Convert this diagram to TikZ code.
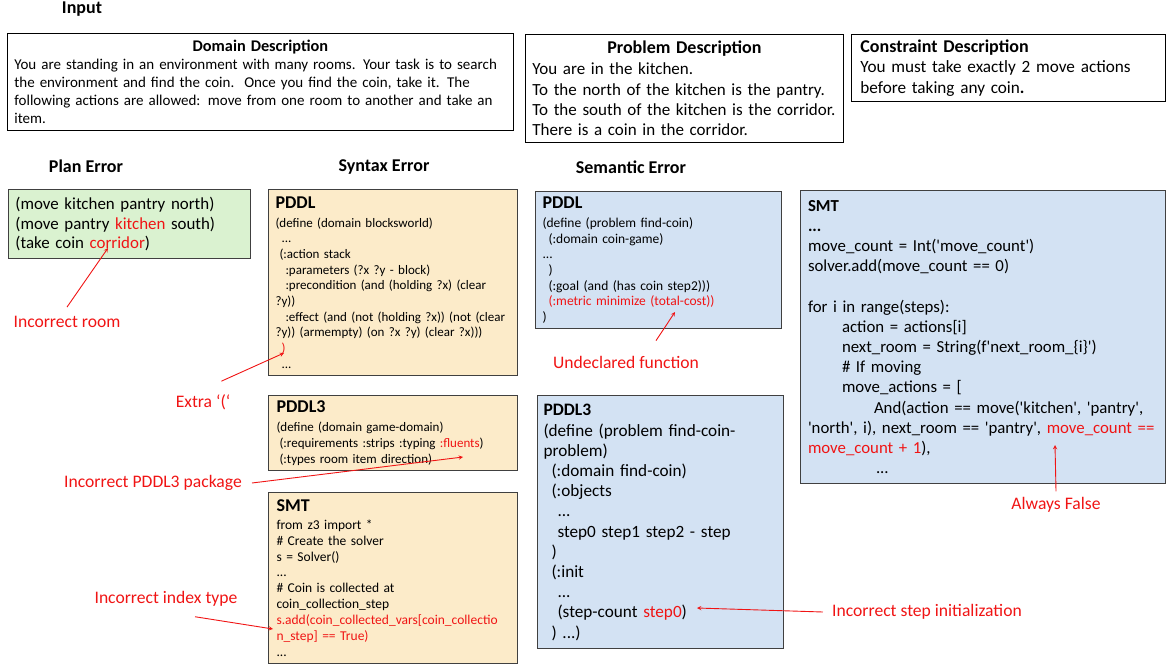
\documentclass[tikz,border=0pt]{standalone}
\usepackage{fontspec}
\setmainfont{Carlito}[Ligatures=TeXOff]
\usetikzlibrary{shapes, arrows, positioning}
\definecolor{errred}{RGB}{240,20,20}
\definecolor{plangreen}{HTML}{DAF2D0}
\definecolor{synbeige}{HTML}{FCEBC9}
\definecolor{semblue}{HTML}{D3E2F3}
\definecolor{edgegray}{HTML}{404040}
\tikzstyle{heading} = [font=\fontsize{18}{20}\selectfont\bfseries, inner sep=1pt]
\tikzstyle{inbox} = [rectangle, draw=black, line width=0.8pt, anchor=north west, align=left, inner ysep=0pt]
\tikzstyle{codebox} = [rectangle, draw=edgegray, line width=1pt, anchor=north west, align=left, inner ysep=0pt]
\tikzstyle{errlabel} = [text=errred, font=\fontsize{17.6}{20}\selectfont, inner sep=1pt]
\tikzstyle{errarrow} = [errred, line width=0.9pt, ->, >=stealth]
\newcommand{\err}[1]{\textcolor{errred}{#1}}

\begin{document}
\begin{tikzpicture}[x=1pt, y=-1pt]
    \useasboundingbox (0,0) rectangle (1166,666);

    % input descriptions
    \node (input) [heading] at (82,9) {Input};
    \node (domain) [inbox, inner xsep=7pt, text width=492pt, minimum height=97pt, font=\fontsize{15}{18}\selectfont] at (7,33) {\makebox[\linewidth]{\fontsize{16.3}{18}\selectfont\bfseries Domain Description}\\
        You are standing in an environment with many rooms. Your task is to search\\
        the environment and find the coin.\ \ Once you find the coin, take it. The\\
        following actions are allowed: move from one room to another and take an\\
        item.};
    \node (problem) [inbox, inner xsep=7pt, text width=304pt, minimum height=108pt, font=\fontsize{17}{20.3}\selectfont] at (525,34) {\makebox[\linewidth]{\fontsize{18}{20}\selectfont\bfseries Problem Description}\\[0.7pt]
        You are in the kitchen.\\
        To the north of the kitchen is the pantry.\\
        To the south of the kitchen is the corridor.\\
        There is a coin in the corridor.};
    \node (constraint) [inbox, inner xsep=9pt, text width=296pt, minimum height=67pt, font=\fontsize{17.2}{20.5}\selectfont] at (851,34) {{\fontsize{18}{20}\selectfont\bfseries Constraint Description}\\
        You must take exactly 2 move actions\\
        before taking any coin{\bfseries .}};

    % column headings
    \node (planhead) [heading] at (86,166) {Plan Error};
    \node (synhead) [heading] at (384,167) {Syntax Error};
    \node (semhead) [heading] at (631,167) {Semantic Error};

    % plan error
    \node (plan) [codebox, fill=plangreen, inner xsep=7pt, text width=228pt, minimum height=69pt, font=\fontsize{16.9}{19.8}\selectfont] at (8,189) {(move kitchen pantry north)\\
        (move pantry \err{kitchen} south)\\
        (take coin \err{corridor})};

    % syntax errors
    \node (synpddl) [codebox, fill=synbeige, inner xsep=7pt, text width=235pt, minimum height=186pt, font=\fontsize{13}{15.67}\selectfont] at (268,189) {{\fontsize{18}{18}\selectfont\bfseries PDDL}\\[3.3pt]
        (define (domain blocksworld)\\
        \hspace*{6pt}...\\
        \hspace*{4pt}(:action stack\\
        \hspace*{10pt}:parameters (?x ?y - block)\\
        \hspace*{10pt}:precondition (and (holding ?x) (clear\\
        ?y))\\
        \hspace*{10pt}:effect (and (not (holding ?x)) (not (clear\\
        ?y)) (armempty) (on ?x ?y) (clear ?x)))\\
        \hspace*{6pt}\err{)}\\
        \hspace*{6pt}...};
    \node (synpddl3) [codebox, fill=synbeige, inner xsep=8pt, text width=233pt, minimum height=75pt, font=\fontsize{13}{16}\selectfont] at (268,395) {{\fontsize{18}{18}\selectfont\bfseries PDDL3}\\[3pt]
        (define (domain game-domain)\\
        \hspace*{3pt}(:requirements :strips :typing \err{:fluents})\\
        \hspace*{3pt}(:types room item direction)};
    \node (synsmt) [codebox, fill=synbeige, inner xsep=8pt, text width=233pt, minimum height=171pt, font=\fontsize{13.5}{15.9}\selectfont] at (268,492) {{\fontsize{18}{18}\selectfont\bfseries SMT}\\[2pt]
        from z3 import *\\
        \# Create the solver\\
        s = Solver()\\
        ...\\
        \# Coin is collected at\\
        coin\_collection\_step\\
        \err{s.add(coin\_collected\_vars[coin\_collectio}\\
        \err{n\_step] == True)}\\
        ...};

    % semantic errors
    \node (sempddl) [codebox, fill=semblue, inner xsep=7pt, text width=232pt, minimum height=137pt, font=\fontsize{13.5}{15.7}\selectfont] at (535,191) {{\fontsize{18}{18}\selectfont\bfseries PDDL}\\[3.3pt]
        (define (problem find-coin)\\
        \hspace*{6pt}(:domain coin-game)\\
        ...\\
        \hspace*{6pt})\\
        \hspace*{6pt}(:goal (and (has coin step2)))\\
        \hspace*{6pt}\err{(:metric minimize (total-cost))}\\
        )};
    \node (sempddl3) [codebox, fill=semblue, inner xsep=6pt, text width=234pt, minimum height=253pt, font=\fontsize{17.2}{20.2}\selectfont] at (537,395) {{\fontsize{17.5}{18}\selectfont\bfseries PDDL3}\\[0.8pt]
        (define (problem find-coin-\\
        problem)\\
        \hspace*{8pt}(:domain find-coin)\\
        \hspace*{8pt}(:objects\\
        \hspace*{14pt}...\\
        \hspace*{14pt}step0 step1 step2 - step\\
        \hspace*{8pt})\\
        \hspace*{8pt}(:init\\
        \hspace*{14pt}...\\
        \hspace*{14pt}(step-count \err{step0})\\
        \hspace*{8pt}) ...)};
    \node (semsmt) [codebox, fill=semblue, inner xsep=7.5pt, text width=350pt, minimum height=293pt, font=\fontsize{16.8}{20.2}\selectfont] at (800,190) {{\bfseries SMT}\\
        {\bfseries ...}\\
        move\_count = Int('move\_count')\\
        solver.add(move\_count == 0)\\
        \mbox{}\\
        for i in range(steps):\\
        \hspace*{34pt}action = actions[i]\\
        \hspace*{34pt}next\_room = String(f'next\_room\_\{i\}')\\
        \hspace*{34pt}\# If moving\\
        \hspace*{34pt}move\_actions = [\\
        \hspace*{66pt}And(action == move('kitchen', 'pantry',\\
        'north', i), next\_room == 'pantry', \err{move\_count ==}\\
        \err{move\_count + 1}),\\
        \hspace*{68pt}...};

    % error labels
    \node (room) [errlabel] at (67,322) {Incorrect room};
    \node (extra) [errlabel] at (203,402) {Extra ‘(‘};
    \node (package) [errlabel] at (153,483) {Incorrect PDDL3 package};
    \node (index) [errlabel] at (166,599) {Incorrect index type};
    \node (undeclared) [errlabel] at (626,362) {Undeclared function};
    \node (stepinit) [errlabel] at (927,612) {Incorrect step initialization};
    \node (always) [errlabel] at (1056,505) {Always False};

    % arrow tips inside the boxes
    \coordinate (corridortip) at (108,248);
    \coordinate (bracetip) at (284,353);
    \coordinate (fluentstip) at (463,457);
    \coordinate (indextip) at (273,629);
    \coordinate (metrictip) at (675,312);
    \coordinate (steptip) at (697,608);
    \coordinate (counttip) at (1055,445);

    \draw [errarrow] ([yshift=8pt]room.north) -- (corridortip);
    \draw [errarrow] ([shift={(-10pt,12pt)}]extra.north east) -- (bracetip);
    \draw [errarrow] ([xshift=9pt]package.east) -- (fluentstip);
    \draw [errarrow] ([shift={(29pt,-9pt)}]index.south) -- (indextip);
    \draw [errarrow] ([shift={(30pt,14pt)}]undeclared.north) -- (metrictip);
    \draw [errarrow] ([xshift=-8pt]stepinit.west) -- (steptip);
    \draw [errarrow] ([yshift=5pt]always.north) -- (counttip);
\end{tikzpicture}
\end{document}
